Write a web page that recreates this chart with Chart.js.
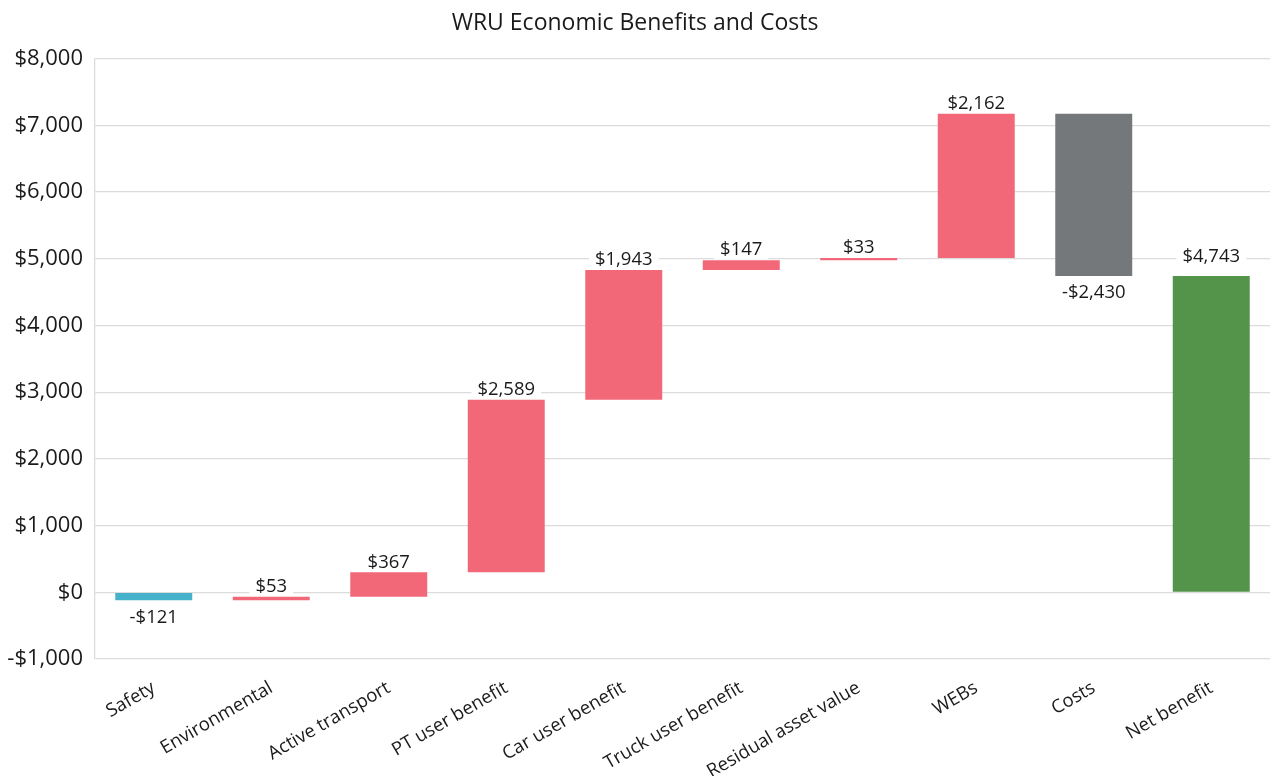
<!DOCTYPE html>
<html>
<head>
<meta charset="utf-8">
<title>WRU Economic Benefits and Costs</title>
<script src="https://cdn.jsdelivr.net/npm/chart.js@4"></script>
<style>
  html, body { margin: 0; padding: 0; background: #ffffff; }
  #wrap { width: 1270px; height: 776px; }
</style>
</head>
<body>
<div id="wrap"><canvas id="chart" width="1270" height="776"></canvas></div>
<script>
// Benefit / cost components ($m) and the resulting net benefit
const categories = ['Safety', 'Environmental', 'Active transport', 'PT user benefit',
  'Car user benefit', 'Truck user benefit', 'Residual asset value', 'WEBs', 'Costs', 'Net benefit'];
const changes = [-121, 53, 367, 2589, 1943, 147, 33, 2162, -2430];
const netBenefit = 4743;
const yTicks = [-1000, 0, 1000, 2000, 3000, 4000, 5000, 6000, 7000, 8000];

// Build the floating [start, end] ranges of the waterfall
const ranges = [];
let running = 0;
changes.forEach(v => { ranges.push([running, running + v]); running += v; });
ranges.push([0, netBenefit]);
const labelValues = changes.concat([netBenefit]);

const barColors = ['#45b1ca', '#f26878', '#f26878', '#f26878', '#f26878', '#f26878',
  '#f26878', '#f26878', '#75787b', '#53944a'];

const FONT = '"Open Sans", "Noto Sans", sans-serif';
const fmt = v => (v < 0 ? '-$' : '$') + Math.abs(v).toLocaleString('en-US');

// Value labels: above the bar end for increases, below for decreases
const valueLabels = {
  id: 'valueLabels',
  afterDatasetsDraw(chart) {
    const ctx = chart.ctx;
    const meta = chart.getDatasetMeta(0);
    ctx.save();
    ctx.font = '18.5px ' + FONT;
    ctx.textAlign = 'center';
    meta.data.forEach((bar, i) => {
      const v = labelValues[i];
      const r = ranges[i];
      const top = chart.scales.y.getPixelForValue(Math.max(r[0], r[1]));
      const bottom = chart.scales.y.getPixelForValue(Math.min(r[0], r[1]));
      const text = fmt(v);
      const w = ctx.measureText(text).width;
      let cy = v < 0 ? bottom + 15 : top - 12;
      if (i === labelValues.length - 1) cy = top - 21;
      ctx.fillStyle = '#ffffff';
      ctx.fillRect(bar.x - w / 2 - 6, cy - 11, w + 12, 22);
      ctx.fillStyle = '#1a1a1a';
      ctx.textBaseline = 'middle';
      ctx.fillText(text, bar.x, cy + 2);
    });
    ctx.restore();
  }
};

new Chart(document.getElementById('chart'), {
  type: 'bar',
  data: {
    labels: categories,
    datasets: [{
      data: ranges,
      backgroundColor: barColors,
      borderWidth: 0,
      borderSkipped: false,
      barPercentage: 0.655,
      categoryPercentage: 1.0
    }]
  },
  options: {
    responsive: false,
    animation: false,
    layout: { padding: { top: 0, right: 0, left: 0, bottom: 0 } },
    plugins: {
      legend: { display: false },
      tooltip: { enabled: false },
      title: {
        display: true,
        text: 'WRU Economic Benefits and Costs',
        color: '#1a1a1a',
        font: { family: FONT, size: 23, weight: 'normal' },
        padding: { top: 10, bottom: 21 }
      }
    },
    scales: {
      x: {
        grid: { display: false },
        border: { display: false },
        ticks: {
          color: '#1a1a1a',
          font: { family: FONT, size: 18.5 },
          minRotation: 30,
          maxRotation: 30,
          autoSkip: false,
          padding: 10
        },
        afterFit(scale) { scale.height = 117; }
      },
      y: {
        min: -1000,
        max: 8000,
        afterBuildTicks(scale) { scale.ticks = yTicks.map(v => ({ value: v })); },
        grid: { color: '#dcdcdc', lineWidth: 1.3, drawTicks: false },
        border: { display: true, color: '#dcdcdc', width: 1.3 },
        ticks: {
          color: '#1a1a1a',
          font: { family: FONT, size: 22 },
          padding: 12,
          callback: v => fmt(v)
        },
        afterFit(scale) { scale.width = 95; }
      }
    }
  },
  plugins: [valueLabels]
});
</script>
</body>
</html>
